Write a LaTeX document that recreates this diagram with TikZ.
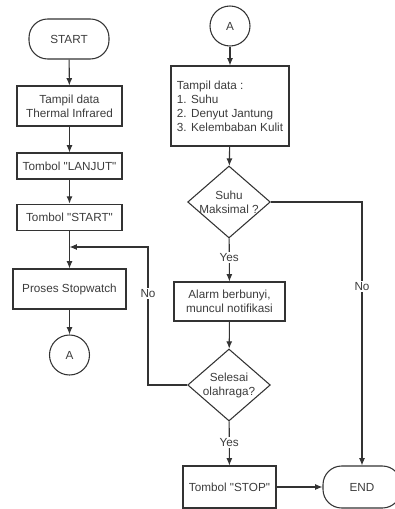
\documentclass[tikz,border=0pt]{standalone}
\usepackage{fontspec}
\setmainfont{Liberation Sans}
\usetikzlibrary{shapes.geometric,arrows.meta}
\definecolor{linegray}{HTML}{333333}
\definecolor{textgray}{HTML}{3C3C3C}

\begin{document}
\begin{tikzpicture}[x=0.75pt,y=-0.75pt,>={Latex[length=5.5pt,width=4.5pt]},
		every node/.style={font=\fontsize{8.8}{10.5}\selectfont,text=textgray},
		proc/.style={draw=linegray,line width=0.8pt,rectangle,inner sep=2pt,align=center},
		term/.style={draw=linegray,line width=0.8pt,rectangle,rounded corners=14pt,minimum width=60pt,minimum height=30pt},
		conn/.style={draw=linegray,line width=0.8pt,circle,minimum size=30pt,inner sep=0pt},
		decide/.style={draw=linegray,line width=0.8pt,diamond,aspect=1.15,inner sep=-1.5pt,minimum width=62pt,minimum height=54pt,align=center},
		flow/.style={->,draw=linegray,line width=0.8pt},
		lbl/.style={fill=white,inner sep=1pt}]
		\useasboundingbox (0,0) rectangle (395,509);

		\node[term] (start) at (69,39) {START};
		\node[proc,minimum width=78.75pt,minimum height=30pt] (thermal) at (69.5,106) {Tampil data\\Thermal Infrared};
		\node[proc,minimum width=78.75pt,minimum height=19.5pt] (lanjut) at (69.5,166) {Tombol \textquotedbl LANJUT\textquotedbl};
		\node[proc,minimum width=78.75pt,minimum height=20pt] (tstart) at (69.5,217.5) {Tombol \textquotedbl START\textquotedbl};
		\node[proc,minimum width=84.75pt,minimum height=30pt] (stopwatch) at (69.5,289) {Proses Stopwatch};
		\node[conn] (conA) at (69.5,355) {A};

		\node[conn] (conB) at (230,26) {A};
		\node[proc,align=left,minimum width=88.5pt,minimum height=60pt] (tampil) at (230,106) {Tampil data :\\1. Suhu\\2. Denyut Jantung\\3. Kelembaban Kulit};
		\node[decide] (suhu) at (229,202) {Suhu\\Maksimal ?};
		\node[proc,minimum width=83.25pt,minimum height=29.25pt] (alarm) at (229.5,301.5) {Alarm berbunyi,\\muncul notifikasi};
		\node[decide] (selesai) at (229,385) {Selesai\\olahraga?};
		\node[proc,minimum width=69.75pt,minimum height=31.5pt] (stop) at (229.5,487) {Tombol \textquotedbl STOP\textquotedbl};
		\node[term,minimum width=58.5pt,minimum height=31.5pt] (end) at (362,487) {END};

		\coordinate (loop) at (148,247);

		\draw[flow] (start) -- (thermal);
		\draw[flow] (thermal) -- (lanjut);
		\draw[flow] (lanjut) -- (tstart);
		\draw[flow] (tstart) -- (stopwatch);
		\draw[flow] (stopwatch) -- (conA);

		\draw[flow] (conB) -- (tampil);
		\draw[flow] (tampil) -- (suhu);
		\draw[flow] (suhu) -- node[lbl,pos=0.45] {Yes} (alarm);
		\draw[flow] (suhu.east) -| node[lbl,pos=0.66] {No} (end.north);
		\draw[flow] (alarm) -- (selesai);
		\draw[flow] (selesai) -- node[lbl,pos=0.47] {Yes} (stop);
		\draw[flow] (selesai.west) -| node[lbl,pos=0.83] {No} (loop) -- (tstart.south |- loop);
		\draw[flow] (stop) -- (end);
	\end{tikzpicture}
\end{document}
